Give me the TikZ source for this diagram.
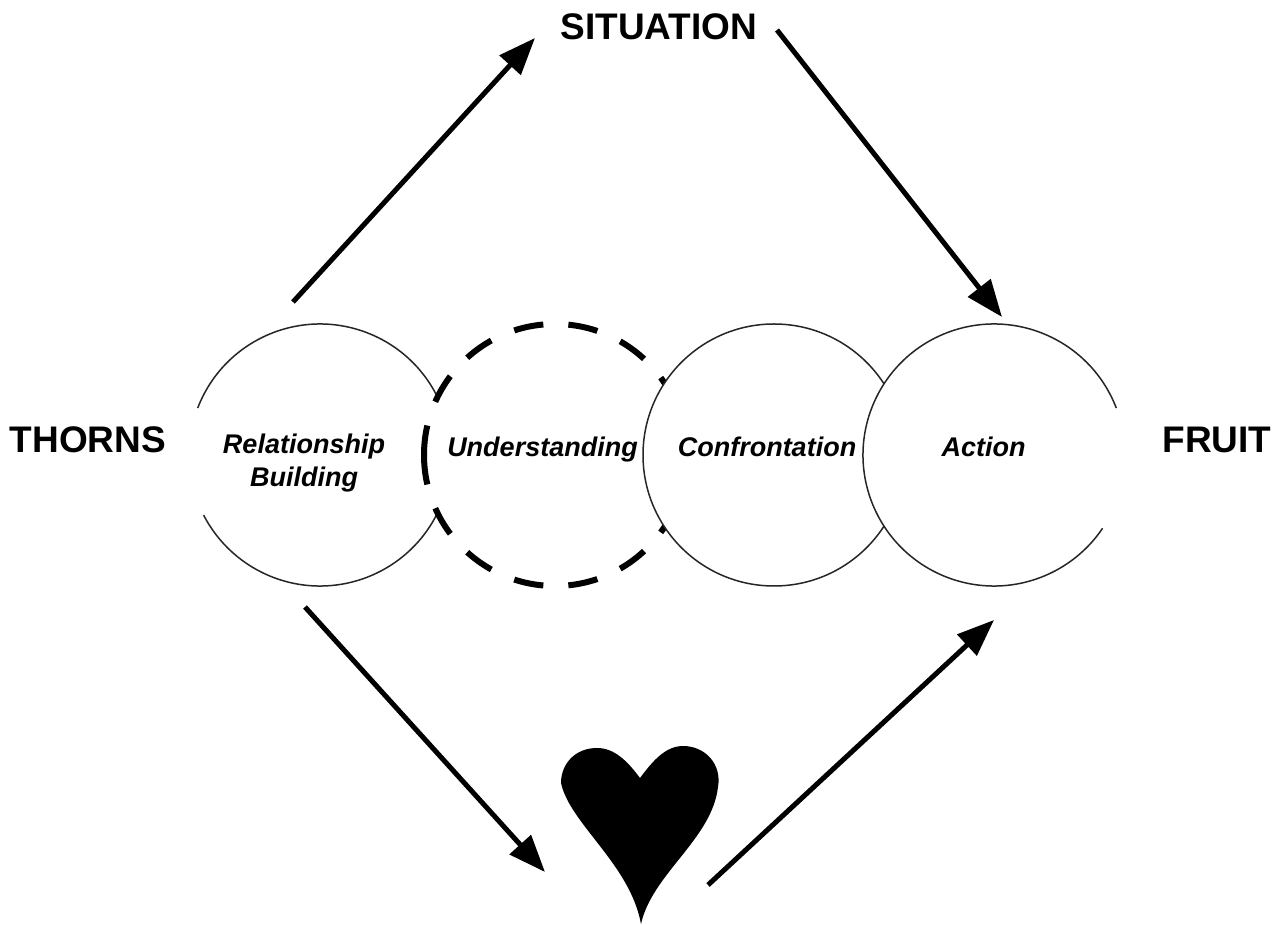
\documentclass[tikz,border=0pt]{standalone}
\usepackage{fontspec}
\setmainfont{Liberation Sans}
\usetikzlibrary{arrows.meta}
\tikzset{
  x=1pt, y=1pt,
  disc/.style={circle, minimum size=262pt, inner sep=0pt, fill=white, draw=none},
  ringline/.style={draw=black!85, line width=1.5pt},
  dashring/.style={draw=black, line width=6pt, dash pattern=on 29.7pt off 25.1pt},
  biglbl/.style={font=\fontsize{37}{40}\selectfont\bfseries, inner sep=0pt},
  lbl/.style={font=\fontsize{27}{30}\selectfont\bfseries\itshape, inner sep=0pt, anchor=base},
  arr/.style={line width=5pt, -{Triangle[length=37pt, width=28pt]}},
}
\begin{document}
\begin{tikzpicture}
\useasboundingbox (0,0) rectangle (1280,924);
\fill[white] (0,0) rectangle (1280,924);

% circles
\node[disc] (rb) at (320,469) {};
\draw[ringline] ([shift={(159:131pt)}]rb.center) arc[start angle=159, delta angle=-311.7, radius=131pt];

\node[disc] (ud) at (555,469) {};
\draw[dashring] ([shift={(180:131pt)}]ud.center) arc[start angle=180, delta angle=-180, radius=131pt];
\draw[dashring] ([shift={(180:131pt)}]ud.center) arc[start angle=180, delta angle=180, radius=131pt];

\node[disc, ringline] (cf) at (774,469) {};

\node[disc] (ac) at (994,469) {};
\draw[ringline] ([shift={(21:131pt)}]ac.center) arc[start angle=21, delta angle=305, radius=131pt];

% labels in circles
\node[lbl] (rbt1) at (304,470) {Relationship};
\node[lbl] (rbt2) at (304,437) {Building};
\node[lbl] (udt) at (542.5,467) {Understanding};
\node[lbl] (cft) at (767,467) {Confrontation};
\node[lbl] (act) at (983.5,467) {Action};

% outer labels
\node[biglbl] (sit) at (659,897) {SITUATION};
\node[biglbl] (thorns) at (88,484) {THORNS};
\node[biglbl] (fruit) at (1217,484) {FRUIT};

% heart
\fill[black] (640,146) .. controls (628,162) and (615,176) .. (597,176)
  .. controls (575,176) and (561,160) .. (561,141)
  .. controls (570,100) and (630,60) .. (641,0)
  .. controls (652,50) and (712,85) .. (718,137)
  .. controls (722,160) and (705,178) .. (683,178)
  .. controls (665,178) and (652,162) .. (640,146) -- cycle;
\coordinate (heart) at (640,90);

% arrow endpoints
\coordinate (a1s) at (293,622);
\coordinate (a1e) at (535,886);
\coordinate (a2s) at (777,894);
\coordinate (a2e) at (1002,607);
\coordinate (a3s) at (305,317);
\coordinate (a3e) at (545,52);
\coordinate (a4s) at (708,39);
\coordinate (a4e) at (994,304);

\draw[arr] (a1s) -- (a1e);
\draw[arr] (a2s) -- (a2e);
\draw[arr] (a3s) -- (a3e);
\draw[arr] (a4s) -- (a4e);
\end{tikzpicture}
\end{document}
